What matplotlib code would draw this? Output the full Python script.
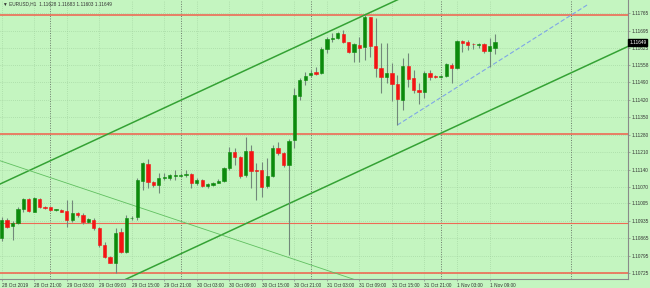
import matplotlib
matplotlib.use("Agg")
import matplotlib.pyplot as plt
import matplotlib.transforms as mtransforms
import numpy as np

plt.rcParams['font.family'] = ['Liberation Sans', 'DejaVu Sans']

# EURUSD H1 bars, 28 Oct 2019 15:00 .. 1 Nov 2019 10:00
opens = [1.10866, 1.10938, 1.10915, 1.10927, 1.10982, 1.11022, 1.10971, 1.11022, 1.10989, 1.10990,
         1.10978, 1.10980, 1.10974, 1.10938, 1.10966, 1.10958, 1.10930, 1.10938, 1.10906, 1.10838,
         1.10790, 1.10767, 1.10891, 1.10811, 1.10945, 1.10949, 1.11095, 1.11162, 1.11091, 1.11078,
         1.11107, 1.11105, 1.11114, 1.11116, 1.11118, 1.11121, 1.11085, 1.11098, 1.11074, 1.11078,
         1.11087, 1.11095, 1.11145, 1.11211, 1.11189, 1.11118, 1.11214, 1.11138, 1.11138, 1.11074,
         1.11114, 1.11226, 1.11205, 1.11158, 1.11258, 1.11434, 1.11498, 1.11517, 1.11529, 1.11525,
         1.11621, 1.11664, 1.11665, 1.11682, 1.11649, 1.11611, 1.11638, 1.11629, 1.11749, 1.11634,
         1.11545, 1.11511, 1.11527, 1.11482, 1.11418, 1.11554, 1.11505, 1.11458, 1.11449, 1.11527,
         1.11512, 1.11510, 1.11514, 1.11558, 1.11545, 1.11654, 1.11649, 1.11643, 1.11639, 1.11641,
         1.11614, 1.11628]
highs = [1.10950, 1.10946, 1.10934, 1.10991, 1.11026, 1.11026, 1.11030, 1.11026, 1.10994, 1.10992,
         1.10982, 1.10982, 1.11018, 1.11018, 1.10971, 1.10965, 1.10947, 1.10945, 1.10911, 1.10851,
         1.10795, 1.10905, 1.10905, 1.10958, 1.10956, 1.11105, 1.11171, 1.11181, 1.11095, 1.11125,
         1.11125, 1.11122, 1.11138, 1.11126, 1.11138, 1.11125, 1.11106, 1.11102, 1.11086, 1.11090,
         1.11102, 1.11151, 1.11231, 1.11225, 1.11194, 1.11269, 1.11238, 1.11166, 1.11171, 1.11187,
         1.11238, 1.11251, 1.11211, 1.11262, 1.11466, 1.11505, 1.11531, 1.11538, 1.11549, 1.11629,
         1.11671, 1.11685, 1.11690, 1.11698, 1.11651, 1.11645, 1.11671, 1.11758, 1.11751, 1.11745,
         1.11646, 1.11646, 1.11566, 1.11518, 1.11585, 1.11605, 1.11538, 1.11485, 1.11534, 1.11538,
         1.11518, 1.11517, 1.11565, 1.11565, 1.11658, 1.11658, 1.11658, 1.11645, 1.11647, 1.11645,
         1.11666, 1.11683]
lows = [1.10854, 1.10906, 1.10858, 1.10921, 1.10971, 1.10971, 1.10970, 1.10985, 1.10981, 1.10976,
        1.10976, 1.10970, 1.10910, 1.10930, 1.10951, 1.10921, 1.10925, 1.10898, 1.10831, 1.10785,
        1.10765, 1.10726, 1.10805, 1.10805, 1.10938, 1.10938, 1.11058, 1.11065, 1.11070, 1.11047,
        1.11098, 1.11098, 1.11098, 1.11110, 1.11111, 1.11065, 1.11078, 1.11070, 1.11066, 1.11074,
        1.11085, 1.11091, 1.11138, 1.11158, 1.11105, 1.11111, 1.11067, 1.11018, 1.11031, 1.11067,
        1.11110, 1.11198, 1.11150, 1.10798, 1.11226, 1.11418, 1.11478, 1.11511, 1.11518, 1.11522,
        1.11605, 1.11651, 1.11663, 1.11645, 1.11605, 1.11571, 1.11571, 1.11578, 1.11591, 1.11511,
        1.11446, 1.11486, 1.11415, 1.11318, 1.11378, 1.11471, 1.11445, 1.11402, 1.11425, 1.11498,
        1.11505, 1.11506, 1.11510, 1.11485, 1.11542, 1.11609, 1.11618, 1.11621, 1.11625, 1.11605,
        1.11551, 1.11603]
closes = [1.10938, 1.10910, 1.10927, 1.10982, 1.11022, 1.10974, 1.11026, 1.10990, 1.10987, 1.10978,
          1.10980, 1.10972, 1.10938, 1.10966, 1.10958, 1.10929, 1.10942, 1.10906, 1.10838, 1.10790,
          1.10768, 1.10887, 1.10811, 1.10945, 1.10947, 1.11098, 1.11166, 1.11091, 1.11078, 1.11105,
          1.11109, 1.11117, 1.11116, 1.11118, 1.11120, 1.11087, 1.11098, 1.11074, 1.11082, 1.11087,
          1.11095, 1.11145, 1.11211, 1.11189, 1.11114, 1.11214, 1.11134, 1.11136, 1.11071, 1.11114,
          1.11226, 1.11205, 1.11158, 1.11254, 1.11438, 1.11498, 1.11514, 1.11527, 1.11521, 1.11621,
          1.11661, 1.11666, 1.11685, 1.11649, 1.11611, 1.11641, 1.11627, 1.11749, 1.11634, 1.11545,
          1.11511, 1.11527, 1.11482, 1.11421, 1.11554, 1.11501, 1.11458, 1.11449, 1.11527, 1.11511,
          1.11510, 1.11514, 1.11561, 1.11545, 1.11654, 1.11647, 1.11638, 1.11641, 1.11643, 1.11614,
          1.11635, 1.11649]

time_labels = ["28 Oct 2019", "28 Oct 21:00", "29 Oct 03:00", "29 Oct 09:00", "29 Oct 15:00",
               "29 Oct 21:00", "30 Oct 03:00", "30 Oct 09:00", "30 Oct 15:00", "30 Oct 21:00",
               "31 Oct 03:00", "31 Oct 09:00", "31 Oct 15:00", "31 Oct 21:00", "1 Nov 03:00",
               "1 Nov 09:00"]
label_step = 6          # bars between time labels
day_starts = [9, 33, 57, 81, 105]   # bar index of 00:00 each day

price_ticks = [1.11765, 1.11695, 1.11625, 1.11558, 1.11490, 1.11420, 1.11350, 1.11280,
               1.11210, 1.11140, 1.11070, 1.11005, 1.10935, 1.10865, 1.10795, 1.10725]

# objects drawn on the chart
hlines_levels = [1.11758, 1.11282, 1.10926, 1.10727]
channel_upper = ([0, 60], [1.11085, 1.11688])
channel_lower = ([0, 60], [1.10471, 1.11074])
down_line = ([0, 60], [1.11173, 1.10737])
dash_line = ([73, 108], [1.11318, 1.11798])

symbol = "EURUSD,H1"

bg = "#c4f5c0"
bull = "#0c8a0c"
bear = "#f41414"
wick = "#72887a"
fs = 3.4

fig = plt.figure(figsize=(6.5, 2.88), dpi=100, facecolor=bg)
ax = fig.add_axes([0, 8.7 / 288, 628 / 650, 279.3 / 288])
ax.set_facecolor(bg)

x = np.arange(len(opens))
o = np.array(opens); h = np.array(highs); l = np.array(lows); c = np.array(closes)
up = c >= o

xmin, xmax = -0.31, 115.55
ax.set_xlim(xmin, xmax)
ax.set_ylim(1.10701, 1.11818)

# grid
for p in price_ticks:
    ax.axhline(p, color="#9ccc9a", lw=0.5, ls=(0, (1, 2)), zorder=0)
xt = np.arange(0, len(opens), label_step)
for t in xt:
    ax.axvline(t, color="#9ccc9a", lw=0.5, ls=(0, (1, 2)), zorder=0)
for d in day_starts:
    ax.axvline(d, color="#6a7a6a", lw=0.7, ls=(0, (1, 1.5)), zorder=0)

# horizontal levels
for i, lv in enumerate(hlines_levels):
    ax.axhline(lv, color="#ee6a55", lw=1.2 if i != 2 else 0.8, zorder=1)

# trend lines, extended as rays
def ray(pts, **kw):
    (x0, x1), (y0, y1) = pts
    k = (y1 - y0) / (x1 - x0)
    xs = np.array([xmin - 5, xmax + 5])
    ax.plot(xs, y0 + k * (xs - x0), **kw)

ray(channel_upper, color="#34a234", lw=1.1, zorder=2)
ray(channel_lower, color="#34a234", lw=1.1, zorder=2)
ray(down_line, color="#5fbf5f", lw=0.6, zorder=2)
ax.plot(dash_line[0], dash_line[1], color="#7fa6e6", lw=0.8, ls=(0, (4, 2)), zorder=2)

# candles
ax.vlines(x, l, h, color=wick, lw=0.8, zorder=3)
body = np.maximum(np.abs(c - o), 0.000025)
bottom = np.minimum(o, c)
ax.bar(x[up], body[up], bottom=bottom[up], width=0.6, color=bull, edgecolor=bull, lw=0.4, zorder=4)
ax.bar(x[~up], body[~up], bottom=bottom[~up], width=0.6, color=bear, edgecolor=bear, lw=0.4, zorder=4)

# axes
for s in ["top", "left"]:
    ax.spines[s].set_visible(False)
for s in ["right", "bottom"]:
    ax.spines[s].set_color("#8a8a8a")
    ax.spines[s].set_linewidth(0.8)

ax.yaxis.tick_right()
ax.set_yticks(price_ticks)
ax.set_yticklabels([f"{p:.5f}" for p in price_ticks])
ax.set_xticks(xt)
ax.set_xticklabels(time_labels, ha="left")
ax.tick_params(axis="both", labelsize=fs, length=1.5, width=0.5, color="#8a8a8a",
               labelcolor="#333333", pad=1)

# header
ax.text(0.004, 1 - 4 / 279.3, "\u25bc " + symbol + "  " + " ".join(
    f"{v:.5f}" for v in (opens[-1], highs[-1], lows[-1], closes[-1])),
    transform=ax.transAxes, fontsize=fs, va="center", ha="left", color="#333333")

# current price box
tr = mtransforms.blended_transform_factory(ax.transAxes, ax.transData)
ax.text(1.002, closes[-1], f"{closes[-1]:.5f}", transform=tr, fontsize=fs, va="center",
        ha="left", color="white",
        bbox=dict(boxstyle="square,pad=0.2", fc="black", ec="black"), clip_on=False)

fig.savefig("out.png", dpi=100, facecolor=bg)
